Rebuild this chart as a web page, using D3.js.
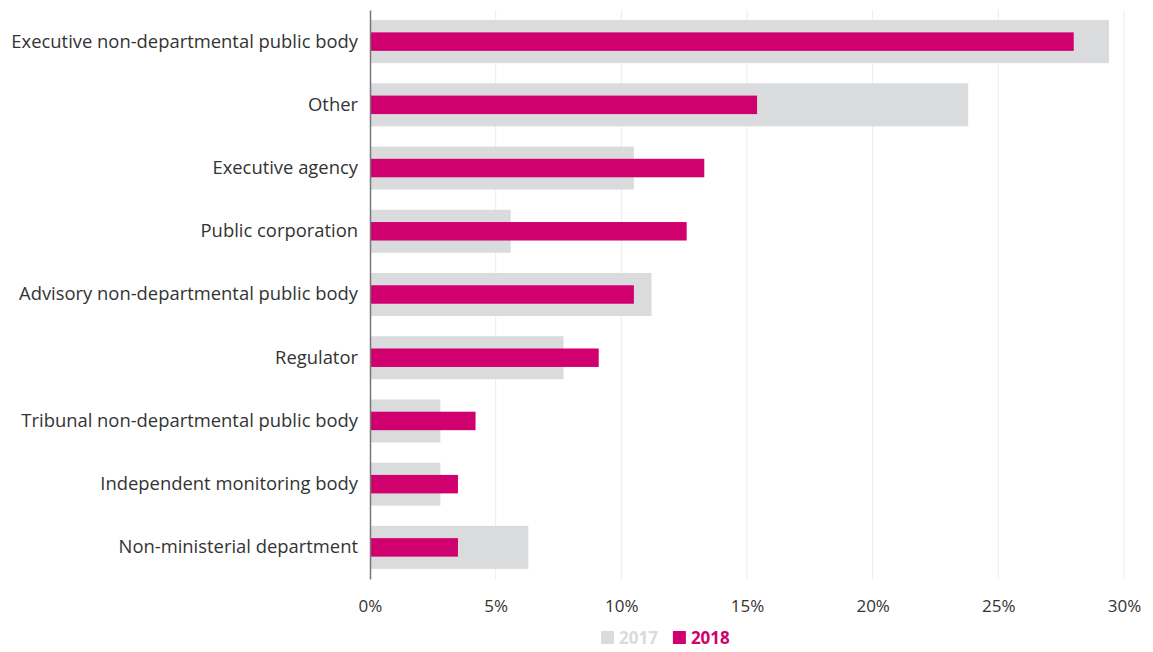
<!DOCTYPE html>
<html>
<head>
<meta charset="utf-8">
<script src="https://d3js.org/d3.v7.min.js"></script>
<style>
  body { margin: 0; background: #fff; font-family: "Open Sans", sans-serif; }
  .tick text { font-family: "Open Sans", sans-serif; }
</style>
</head>
<body>
<div id="chart"></div>
<script>
// categories, top to bottom
const categories = [
  "Executive non-departmental public body",
  "Other",
  "Executive agency",
  "Public corporation",
  "Advisory non-departmental public body",
  "Regulator",
  "Tribunal non-departmental public body",
  "Independent monitoring body",
  "Non-ministerial department"
];
const values2017 = [29.4, 23.8, 10.5, 5.6, 11.2, 7.7, 2.8, 2.8, 6.3];
const values2018 = [28.0, 15.4, 13.3, 12.6, 10.5, 9.1, 4.2, 3.5, 3.5];
const xTicks = [0, 5, 10, 15, 20, 25, 30];
const seriesNames = ["2017", "2018"];

const W = 1153, H = 652;
const margin = { top: 10, right: 29, bottom: 73, left: 370 };
const width = W - margin.left - margin.right;
const height = H - margin.top - margin.bottom;
const grey = "#dadbdd", pink = "#d1006f";

const svg = d3.select("#chart").append("svg")
  .attr("width", W).attr("height", H);
const g = svg.append("g")
  .attr("transform", `translate(${margin.left},${margin.top})`);

const x = d3.scaleLinear().domain([0, 30]).range([0, 754]);
const y = d3.scaleBand().domain(categories).range([0, height]).paddingInner(0.32).paddingOuter(0.16);

// gridlines
g.selectAll(".grid").data(xTicks.slice(1)).enter().append("line")
  .attr("x1", d => x(d)).attr("x2", d => x(d))
  .attr("y1", 0).attr("y2", height)
  .attr("stroke", "#ececec").attr("stroke-width", 1);

// 2017 bars
g.selectAll(".b17").data(categories).enter().append("rect")
  .attr("x", 0)
  .attr("y", d => y(d))
  .attr("width", (d, i) => x(values2017[i]))
  .attr("height", y.bandwidth())
  .attr("fill", grey);

// 2018 bars
const innerH = y.bandwidth() * 0.43;
g.selectAll(".b18").data(categories).enter().append("rect")
  .attr("x", 0)
  .attr("y", d => y(d) + (y.bandwidth() - innerH) / 2)
  .attr("width", (d, i) => x(values2018[i]))
  .attr("height", innerH)
  .attr("fill", pink);

// y axis
const yAxis = g.append("g").call(d3.axisLeft(y).tickSize(0).tickPadding(12));
yAxis.select(".domain").attr("stroke", "#777").attr("stroke-width", 1.5);
yAxis.selectAll("text").attr("font-size", 18.4).attr("fill", "#333");

// x axis
const xAxis = g.append("g")
  .attr("transform", `translate(0,${height})`)
  .call(d3.axisBottom(x).tickValues(xTicks).tickFormat(d => d + "%").tickSize(0).tickPadding(21));
xAxis.select(".domain").remove();
xAxis.selectAll("text").attr("font-size", 17).attr("fill", "#333");

// legend
const legend = svg.append("g").attr("transform", "translate(601,637)");
const colors = [grey, pink];
let lx = 0;
seriesNames.forEach((s, i) => {
  legend.append("rect").attr("x", lx).attr("y", -6).attr("width", 13).attr("height", 13).attr("fill", colors[i]);
  const t = legend.append("text").attr("x", lx + 18).attr("y", 1).attr("dy", "0.35em")
    .attr("font-size", 17).attr("font-weight", "bold").attr("fill", colors[i]).text(s);
  lx += 18 + t.node().getComputedTextLength() + 15;
});
</script>
</body>
</html>
